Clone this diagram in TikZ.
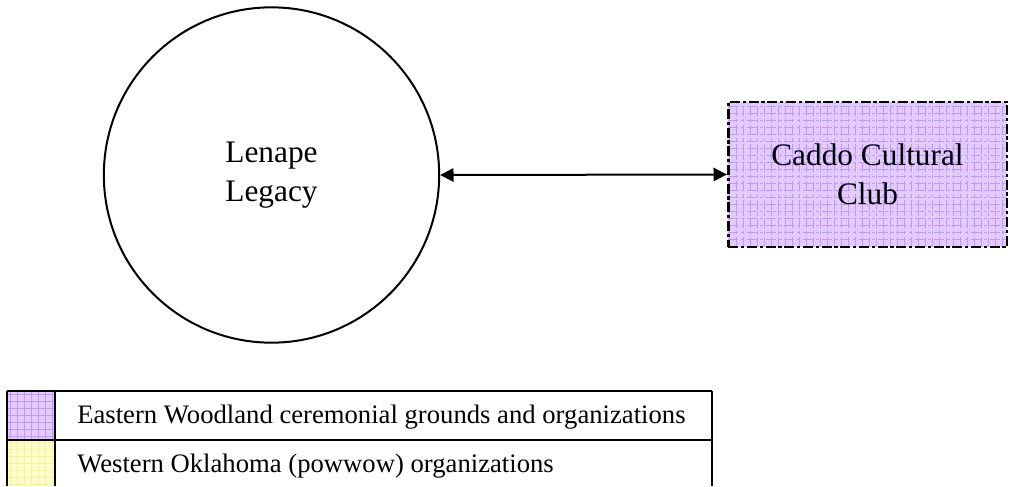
\documentclass[tikz,border=0pt]{standalone}
\usepackage{fontspec}
\setmainfont{Liberation Serif}
\usetikzlibrary{arrows.meta}
\definecolor{lavfill}{RGB}{226,204,255}
\definecolor{lavgrid}{RGB}{196,150,255}
\definecolor{yelfill}{RGB}{255,255,204}
\definecolor{yelgrid}{RGB}{250,240,160}
\tikzset{
  gridfill/.style 2 args={fill=#1, path picture={
      \draw[#2, line width=0.5pt]
        (path picture bounding box.south west) grid[step=5.25pt]
        (path picture bounding box.north east);}},
  orgcircle/.style={circle, draw, line width=1.5pt, inner sep=0pt,
      minimum size=251.5pt, align=center, font=\fontsize{23.5}{29.4}\selectfont},
  orgbox/.style={rectangle, draw, line width=2pt, inner sep=0pt,
      dash pattern=on 7.5pt off 2pt on 2.5pt off 2pt,
      gridfill={lavfill}{lavgrid},
      minimum width=209pt, minimum height=108.75pt,
      align=center, font=\fontsize{23.5}{29.4}\selectfont},
  link/.style={line width=1.5pt, {Triangle[length=10pt,width=10pt]}-{Triangle[length=10pt,width=10pt]}},
  swatch/.style={rectangle, inner sep=0pt, minimum width=36pt, anchor=north west},
  legtext/.style={anchor=base west, inner sep=0pt, font=\fontsize{20}{24}\selectfont},
  rule/.style={line width=1.6pt}
}
\begin{document}
\begin{tikzpicture}[x=0.75pt, y=-0.75pt]
  \useasboundingbox (0,0) rectangle (1010,486);

  % organisations and their link
  \node[orgcircle] (lenape) at (271.5,175) {Lenape\\Legacy};
  \node[orgbox] (caddo) at (867.5,174.5) {Caddo Cultural\\Club};
  \draw[link] (lenape.east) -- (caddo.west);

  % legend swatches
  \node[swatch, gridfill={lavfill}{lavgrid}, minimum height=36.75pt] (sw1) at (7,391) {};
  \node[swatch, gridfill={yelfill}{yelgrid}, minimum height=34.5pt] (sw2) at (7,440) {};

  % legend labels
  \node[legtext] (lab1) at (77,423) {Eastern Woodland ceremonial grounds and organizations};
  \node[legtext] (lab2) at (77,472) {Western Oklahoma (powwow) organizations};

  % legend rules
  \coordinate (tl) at (7,391);
  \coordinate (tr) at (712,391);
  \coordinate (ml) at (7,440);
  \coordinate (mr) at (712,440);
  \coordinate (lb) at (7,486);
  \coordinate (cm) at (55,391);
  \coordinate (cb) at (55,486);
  \coordinate (rb) at (712,486);
  \draw[rule] (tl) -- (tr);
  \draw[rule] (ml) -- (mr);
  \draw[rule] (tl) -- (lb);
  \draw[rule] (cm) -- (cb);
  \draw[rule] (tr) -- (rb);
\end{tikzpicture}
\end{document}
